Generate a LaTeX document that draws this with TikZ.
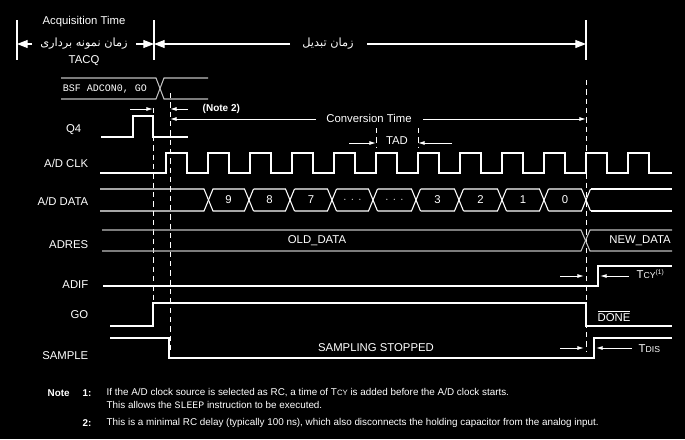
\documentclass[tikz,border=0pt]{standalone}
\usepackage{fontspec}
\setmainfont{Liberation Sans}
\setmonofont{Liberation Mono}
\newfontfamily\arabicfont[Script=Arabic]{DejaVu Sans}
\TeXXeTstate=1
\usetikzlibrary{arrows.meta, positioning, calc}

\begin{document}
\begin{tikzpicture}[
    x=0.75pt, y=-0.75pt,
    sig/.style={white, line width=0.8pt},
    bus/.style={white!75!black, line width=0.8pt},
    guide/.style={white, dash pattern=on 4pt off 3pt, line width=0.7pt},
    signame/.style={text=white, font=\fontsize{8.5}{10}\selectfont, anchor=east},
    txt/.style={text=white, font=\fontsize{8.5}{10}\selectfont},
    note/.style={text=white, font=\fontsize{7.4}{9}\selectfont, anchor=west},
    arrow/.style={->, >={Latex[length=5pt,width=3pt]}, white, line width=0.7pt},
    bigarrow/.style={->, >={Triangle[length=8pt,width=6pt]}, white, line width=0.8pt}
]
    % background
    \fill[black] (0,0) rectangle (685,439);

    % --- Top bars ---
    \foreach \x in {17,154,586} \draw[sig] (\x,20) -- (\x,60);
    \node[txt] (acq) at (84,22) {Acquisition Time};
    \node[txt, font=\arabicfont\fontsize{8.5}{10}\selectfont] (acqfa) at (84,44) {\beginR زمان نمونه برداری\endR};
    \node[txt] (tacq) at (84,61) {TACQ};
    \node[txt, font=\arabicfont\fontsize{8.5}{10}\selectfont] (convfa) at (328,44) {\beginR زمان تبدیل\endR};
    \draw[bigarrow] (32,44) -- (17,44);
    \draw[bigarrow] (136,44) -- (154,44);
    \draw[bigarrow] (290,44) -- (154,44);
    \draw[bigarrow] (367,44) -- (586,44);

    % --- Dashed guides ---
    \draw[guide] (153,108) -- (153,300);
    \draw[guide] (170,93) -- (170,352);
    \draw[guide] (586,80) -- (586,352);
    \draw[guide] (376,128) -- (376,148);
    \draw[guide] (418,128) -- (418,148);

    % --- BSF instruction ---
    \draw[bus] (61,78) -- (156,78) -- (164,99) -- (208,99);
    \draw[bus] (61,99) -- (156,99) -- (164,78) -- (208,78);
    \node[txt, font=\ttfamily\fontsize{7.5}{9}\selectfont] (bsf) at (105,89) {BSF ADCON0, GO};

    % --- Note 2 / conversion time ---
    \draw[arrow] (130,109) -- (153,109);
    \draw[arrow] (188,109) -- (170,109);
    \node[txt, anchor=west, font=\bfseries\fontsize{7.5}{9}\selectfont] (note2) at (198,109) {(Note 2)};
    \node[txt] (convtime) at (369,118) {Conversion Time};
    \draw[arrow] (316,119) -- (170,119);
    \draw[arrow] (423,119) -- (586,119);

    % --- Q4 ---
    \node[signame] (q4) at (86,130) {Q4};
    \draw[sig] (101,137) -- (133,137) -- (133,116) -- (153,116) -- (153,137) -- (188,137);

    % --- TAD ---
    \node[txt] (tad) at (397,141) {TAD};
    \draw[arrow] (349,143) -- (376,143);
    \draw[arrow] (452,143) -- (418,143);

    % --- A/D CLK ---
    \node[signame] (clk) at (93,163) {A/D CLK};
    \draw[sig] (100,173) -- (166,173)
      \foreach \r in {166,208,250,292,334,376,418,460,502,544,586,628} {
        -- (\r,153) -- ({\r+21},153) -- ({\r+21},173) -- ({\r+42},173) }
      -- (672,173);

    % --- A/D DATA ---
    \node[signame] (data) at (93,201) {A/D DATA};
    \draw[sig] (100,189) -- (204,189) -- (213,211);
    \draw[sig] (100,211) -- (204,211) -- (213,189);
    \foreach \a/\b/\v in {208/249/9, 249/290/8, 290/332/7, 332/373/{$\cdot\,\cdot\,\cdot$}, 373/416/{$\cdot\,\cdot\,\cdot$}, 416/459/3, 459/502/2, 502/544/1, 544/586/0} {
      \draw[sig] ({\a+4.5},189) -- ({\b-4.5},189) -- ({\b+4.5},211);
      \draw[sig] ({\a+4.5},211) -- ({\b-4.5},211) -- ({\b+4.5},189);
      \node[txt] at ({(\a+\b)/2},200) {\v};
    }
    \draw[sig] (590.5,189) -- (672,189);
    \draw[sig] (590.5,211) -- (672,211);

    % --- ADRES ---
    \node[signame] (adres) at (93,245) {ADRES};
    \draw[bus] (102,230) -- (581,230) -- (590,251) -- (672,251);
    \draw[bus] (102,251) -- (581,251) -- (590,230) -- (672,230);
    \node[txt] (old) at (317,241) {OLD\_DATA};
    \node[txt] (new) at (640,241) {NEW\_DATA};

    % --- ADIF ---
    \node[signame] (adif) at (93,285) {ADIF};
    \draw[sig] (103,286) -- (598,286) -- (598,266) -- (672,266);
    \draw[arrow] (560,276) -- (584,276);
    \draw[arrow] (629,276) -- (600,276);
    \node[txt, anchor=west] (tcy) at (632,274) {T{\fontsize{6.5}{8}\selectfont CY}$^{\mbox{\tiny(1)}}$};

    % --- GO ---
    \node[signame] (go) at (93,315) {GO};
    \draw[sig] (110,326) -- (153,326) -- (153,303) -- (586,303) -- (586,326) -- (672,326);
    \node[txt] (done) at (614,316) {$\overline{\mbox{DONE}}$};

    % --- SAMPLE ---
    \node[signame] (sample) at (93,356) {SAMPLE};
    \draw[sig] (110,338) -- (169,338) -- (169,358) -- (594,358) -- (594,338) -- (672,338);
    \node[txt] (stopped) at (376,348) {SAMPLING STOPPED};
    \draw[arrow] (560,348) -- (584,348);
    \draw[arrow] (632,348) -- (596,348);
    \node[txt, anchor=west] (tdis) at (634,349) {T{\fontsize{6.5}{8}\selectfont DIS}};

    % --- Notes ---
    \node[note, font=\bfseries\fontsize{7.4}{9}\selectfont] (notehd) at (43,393) {Note};
    \node[note, font=\bfseries\fontsize{7.4}{9}\selectfont] (n1) at (78,393) {1:};
    \node[note] (n1a) at (102,393) {If the A/D clock source is selected as RC, a time of T{\fontsize{5.8}{7}\selectfont CY} is added before the A/D clock starts.};
    \node[note] (n1b) at (102,405) {This allows the \texttt{SLEEP} instruction to be executed.};
    \node[note, font=\bfseries\fontsize{7.4}{9}\selectfont] (n2) at (78,423) {2:};
    \node[note] (n2a) at (102,423) {This is a minimal RC delay (typically 100 ns), which also disconnects the holding capacitor from the analog input.};
\end{tikzpicture}
\end{document}
